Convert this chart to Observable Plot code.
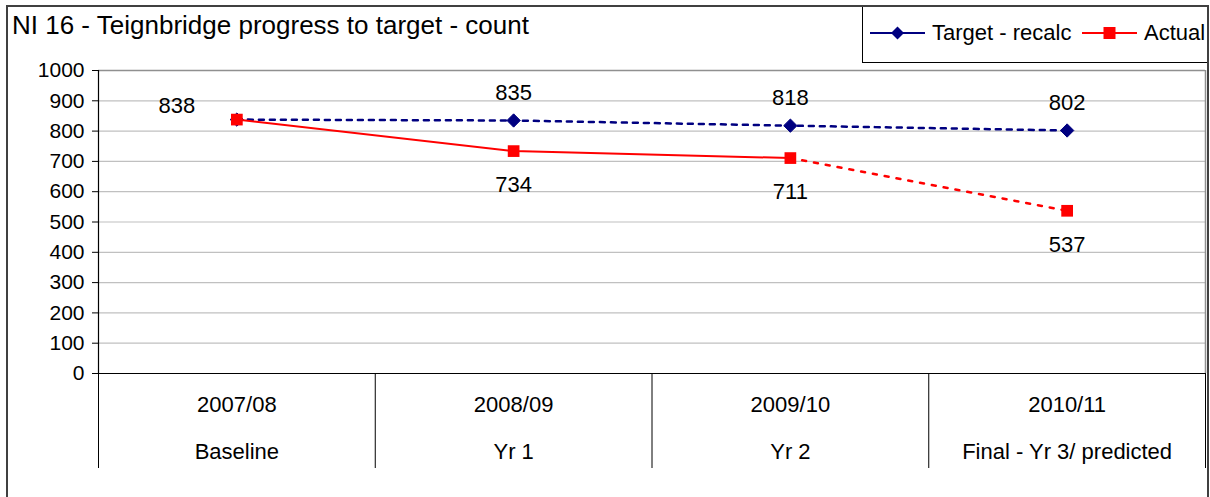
<!DOCTYPE html>
<html><head><meta charset="utf-8">
<script src="https://cdn.jsdelivr.net/npm/d3@7"></script>
<script src="https://cdn.jsdelivr.net/npm/@observablehq/plot@0.6"></script>
<style>
body{margin:0;background:#fff;font-family:"Liberation Sans",Arial,sans-serif;}
#wrap{position:relative;width:1210px;height:497px;overflow:hidden;background:#fff;}
#frame{position:absolute;left:6px;top:5px;width:1203px;height:500px;border:2px solid #404040;box-sizing:border-box;pointer-events:none;}
#head{display:block;}
#chart svg{display:block;}
</style></head><body>
<div id="wrap">
<svg id="head" width="1210" height="65"></svg>
<div id="chart"></div>
<div id="frame"></div>
</div>
<script>
const title = "NI 16 - Teignbridge progress to target - count";
const years = ["2007/08", "2008/09", "2009/10", "2010/11"];
const stages = ["Baseline", "Yr 1", "Yr 2", "Final - Yr 3/ predicted"];
const target = [838, 835, 818, 802];
const actual = [838, 734, 711, 537];
const predicted = [false, false, false, true];
const yTicks = [0, 100, 200, 300, 400, 500, 600, 700, 800, 900, 1000];
const seriesNames = ["Target - recalc", "Actual"];

const FONT = '"Liberation Sans", Arial, sans-serif';
const NAVY = "#000080", RED = "#ff0000";

// Header: title + legend
const head = d3.select("#head");
head.append("text").attr("x", 12).attr("y", 34).attr("font-family", FONT)
  .attr("font-size", 26).attr("fill", "#000").text(title);
const lg = head.append("g");
lg.append("rect").attr("x", 862.5).attr("y", 6.5).attr("width", 345).attr("height", 56)
  .attr("fill", "#fff").attr("stroke", "#000").attr("stroke-width", 1);
const legendItems = [
  {name: seriesNames[0], color: NAVY, symbol: "diamond", x0: 870},
  {name: seriesNames[1], color: RED, symbol: "square", x0: 1082}
];
legendItems.forEach(it => {
  const g = lg.append("g");
  g.append("line").attr("x1", it.x0).attr("x2", it.x0 + 55).attr("y1", 33).attr("y2", 33)
    .attr("stroke", it.color).attr("stroke-width", 2);
  const cx = it.x0 + 27.5;
  if (it.symbol === "diamond") {
    g.append("path").attr("d", `M${cx},${33-6.5}L${cx+6.5},33L${cx},${33+6.5}L${cx-6.5},33Z`).attr("fill", it.color);
  } else {
    g.append("rect").attr("x", cx - 6).attr("y", 27).attr("width", 12).attr("height", 12).attr("fill", it.color);
  }
  g.append("text").attr("x", it.x0 + 62).attr("y", 40).attr("font-family", FONT)
    .attr("font-size", 22).attr("fill", "#000").text(it.name);
});

const idx = d3.range(years.length);
const lastMeasured = predicted.lastIndexOf(false);
const measuredIdx = idx.filter(i => i <= lastMeasured);
const predictedIdx = idx.filter(i => i >= lastMeasured);

const plot = Plot.plot({
  width: 1210, height: 432,
  marginTop: 5, marginBottom: 124, marginLeft: 98, marginRight: 5,
  style: {fontFamily: FONT, fontSize: "21px", color: "#000", background: "transparent", overflow: "visible"},
  x: {domain: [-0.5, years.length - 0.5], ticks: d3.range(years.length + 1).map(i => i - 0.5),
      tickSize: 95, tickFormat: () => "", label: null},
  y: {domain: [0, 1000], ticks: yTicks, tickSize: 6, tickPadding: 8, tickFormat: d => String(d), label: null},
  marks: [
    Plot.ruleY(yTicks, {stroke: "#c0c0c0", strokeWidth: 1.2}),
    Plot.ruleY([1000], {stroke: "#909090", strokeWidth: 1.5}),
    Plot.ruleX([years.length - 0.5], {stroke: "#909090", strokeWidth: 1.5}),
    Plot.ruleX([-0.5], {stroke: "#000", strokeWidth: 1.2}),
    Plot.ruleY([0], {stroke: "#000", strokeWidth: 1.2}),
    Plot.line(idx, {x: i => i, y: i => target[i], stroke: NAVY, strokeWidth: 2.5, strokeDasharray: "5,6"}),
    Plot.dot(idx, {x: i => i, y: i => target[i], symbol: "diamond2", r: 6, fill: NAVY, stroke: NAVY, strokeWidth: 1}),
    Plot.line(measuredIdx, {x: i => i, y: i => actual[i], stroke: RED, strokeWidth: 2}),
    Plot.line(predictedIdx, {x: i => i, y: i => actual[i], stroke: RED, strokeWidth: 2.5, strokeDasharray: "4,8"}),
    Plot.dot(idx, {x: i => i, y: i => actual[i], symbol: "square", r: 6.6, fill: RED, stroke: "none"}),
    Plot.text([0], {x: i => i, y: i => target[i], text: i => String(target[i]), dx: -60, dy: -14, fontSize: 22, fill: "#000"}),
    Plot.text(idx.slice(1), {x: i => i, y: i => target[i], text: i => String(target[i]), dy: -28, fontSize: 22, fill: "#000"}),
    Plot.text(idx.slice(1), {x: i => i, y: i => actual[i], text: i => String(actual[i]), dy: 34, fontSize: 22, fill: "#000"}),
    Plot.text(idx, {x: i => i, text: i => years[i], frameAnchor: "bottom", dy: 38, fontSize: 22, fill: "#000"}),
    Plot.text(idx, {x: i => i, text: i => stages[i], frameAnchor: "bottom", dy: 85, fontSize: 22, fill: "#000"})
  ]
});
document.getElementById("chart").appendChild(plot);
</script>
</body></html>
